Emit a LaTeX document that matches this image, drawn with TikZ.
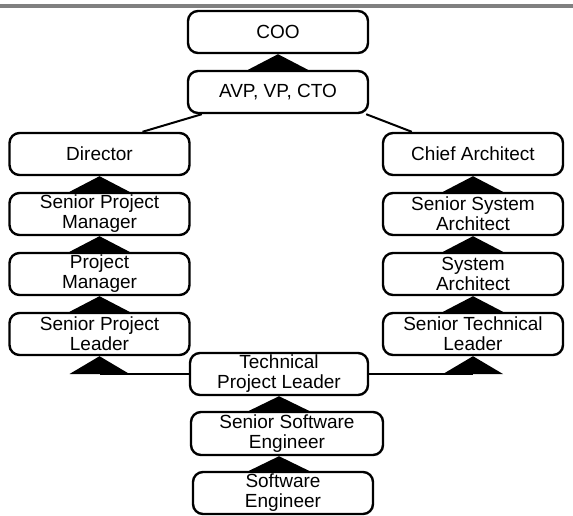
\documentclass[tikz,border=0pt]{standalone}
\usepackage{fontspec}
\setmainfont{Liberation Sans}
\usetikzlibrary{calc}

\begin{document}
\begin{tikzpicture}[x=0.5pt,y=-0.5pt]
		\tikzset{every node/.style={draw, line width=1.2pt, rounded corners=5pt, minimum width=90pt, minimum height=21pt, inner sep=0pt, align=center, font=\fontsize{9.5}{10}\selectfont}}
\useasboundingbox (0,0) rectangle (573,515);
\fill[gray] (0,4) rectangle (573,7.5);

\node (coo) at (278,32) {COO};
\node (avp) at (278,92) {AVP, VP, CTO};
\node (dir) at (99.5,154) {Director};
\node (spm) at (99.5,214) {Senior Project\\Manager};
\node (pm) at (99.5,274) {Project\\Manager};
\node (spl) at (99.5,334) {Senior Project\\Leader};
\node (ca) at (473,154) {Chief Architect};
\node (ssa) at (473,214) {Senior System\\Architect};
\node (sa) at (473,274) {System\\Architect};
\node (stl) at (473,334) {Senior Technical\\Leader};
\node[minimum width=89pt] (tpl) at (279,374) {Technical\\Project Leader};
\node[minimum width=96pt, minimum height=21.5pt] (sse) at (287,433.5) {Senior Software\\Engineer};
\node (se) at (283,493) {Software\\Engineer};

\coordinate (lj) at (spl.south |- tpl.west);
\coordinate (rj) at (stl.south |- tpl.west);
\coordinate (mt) at (tpl.south |- sse.south);

\draw[line width=1pt] ($(avp.south west)+(15,0)$) -- ($(dir.north)+(43,0)$);
\draw[line width=1pt] ($(avp.south east)+(-3,0)$) -- ($(ca.north west)+(30,0)$);
\draw[line width=1pt] (tpl.west) -- (lj);
\draw[line width=1pt] (tpl.east) -- (rj);

\foreach \tip/\base in {coo.south/avp.north, dir.south/spm.north, spm.south/pm.north, pm.south/spl.north, ca.south/ssa.north, ssa.south/sa.north, sa.south/stl.north, spl.south/lj, stl.south/rj, tpl.south/sse.north, mt/se.north}
{
	\fill (\tip) -- ($(\tip |- \base)+(-30,0)$) -- ($(\tip |- \base)+(30,0)$) -- cycle;
}

		\end{tikzpicture}
\end{document}
